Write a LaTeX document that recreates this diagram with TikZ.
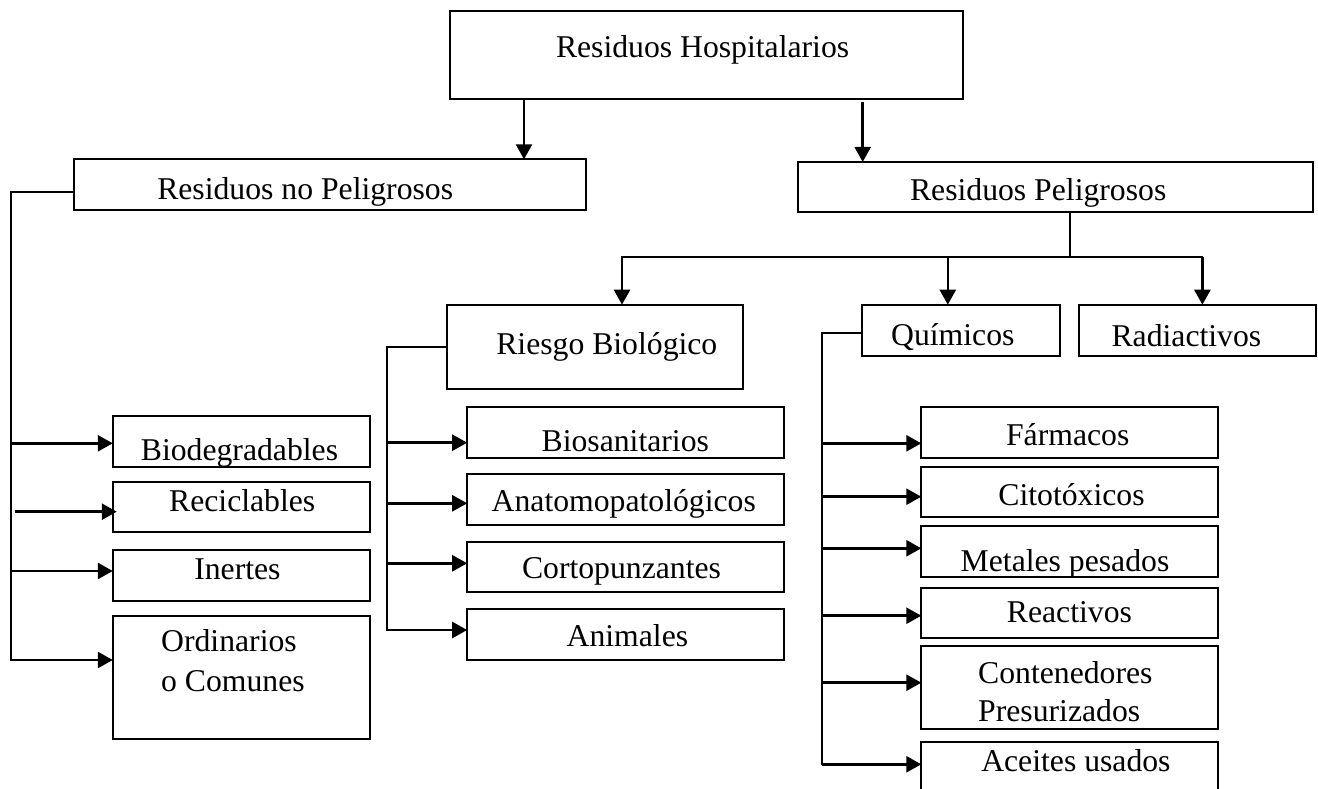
\documentclass[tikz,border=0pt]{standalone}
\usepackage{fontspec}
\setmainfont{Liberation Serif}
\usetikzlibrary{arrows.meta}
\newcommand\mkbox[5]{\node[box, minimum width={#4-#2}, minimum height={#5-#3}] (#1) at ({(#2+#4)/2},{(#3+#5)/2}) {};}
\begin{document}
\begin{tikzpicture}[x=1pt,y=-1pt,
  box/.style={draw, line width=2pt, inner sep=0pt, outer sep=0pt, rectangle},
  lbl/.style={inner sep=0pt, outer sep=0pt, font=\fontsize{31.7}{36}\selectfont, anchor=base},
  lblw/.style={lbl, anchor=base west},
  arr/.style={line width=2.5pt, -{Triangle[length=15pt,width=16pt]}},
  ln/.style={line width=2pt, line cap=rect}]
\useasboundingbox (0,0) rectangle (1318,789);
\clip (0,0) rectangle (1318,789);
% boxes
\mkbox{hosp}{449.5}{10.7}{963.4}{99}
\mkbox{nopel}{73.6}{159.3}{586}{210}
\mkbox{pel}{798.2}{162}{1313.2}{212.3}
\mkbox{bio}{447.4}{304.7}{743.4}{389}
\mkbox{quim}{861.9}{304.7}{1059.5}{355.7}
\mkbox{rad}{1078.9}{304.7}{1316}{355.7}
\mkbox{biodeg}{112.8}{416}{369.5}{466.7}
\mkbox{recic}{112.8}{481.7}{369.5}{532}
\mkbox{inert}{112.8}{550}{369.5}{600.7}
\mkbox{ordin}{112.8}{615.7}{369.5}{739.3}
\mkbox{biosan}{467.2}{407.3}{783.5}{457.7}
\mkbox{anato}{467.2}{474.3}{783.5}{525}
\mkbox{corto}{467.2}{541.7}{783.5}{591.7}
\mkbox{anim}{467.2}{609.3}{783.5}{660}
\mkbox{farm}{921.3}{407.3}{1218.4}{457.7}
\mkbox{cito}{921.3}{467.3}{1218.4}{517}
\mkbox{metal}{921.3}{526}{1218.4}{576.7}
\mkbox{react}{921.3}{587.7}{1218.4}{637.7}
\mkbox{conten}{921.3}{645.7}{1218.4}{729.3}
\mkbox{aceit}{921.3}{742.3}{1218.4}{810}
% labels
\node[lbl] (hospT) at (702.6,57.5) {Residuos Hospitalarios};
\node[lbl] (nopelT) at (305.2,199.5) {Residuos no Peligrosos};
\node[lbl] (pelT) at (1038.2,200.5) {Residuos Peligrosos};
\node[lbl] (bioT) at (606.8,354) {Riesgo Biológico};
\node[lbl] (quimT) at (952.8,345.5) {Químicos};
\node[lbl] (radT) at (1186.4,346) {Radiactivos};
\node[lbl] (biodegT) at (239.5,460.3) {Biodegradables};
\node[lbl] (recicT) at (242.2,511) {Reciclables};
\node[lbl] (inertT) at (237.4,579.3) {Inertes};
\node[lblw] (ordinT1) at (161.2,651.7) {Ordinarios};
\node[lblw] (ordinT2) at (161.2,691) {o Comunes};
\node[lbl] (biosanT) at (625.3,451.7) {Biosanitarios};
\node[lbl] (anatoT) at (623.8,511) {Anatomopatológicos};
\node[lbl] (cortoT) at (621.5,578.3) {Cortopunzantes};
\node[lbl] (animT) at (627.4,646) {Animales};
\node[lbl] (farmT) at (1067.7,445) {Fármacos};
\node[lbl] (citoT) at (1071.5,505) {Citotóxicos};
\node[lbl] (metalT) at (1065,571.7) {Metales pesados};
\node[lbl] (reactT) at (1069.4,622.7) {Reactivos};
\node[lblw] (contenT1) at (978.2,683.7) {Contenedores};
\node[lblw] (contenT2) at (978.2,721.7) {Presurizados};
\node[lbl] (aceitT) at (1075.9,771) {Aceites usados};
% top arrows
\coordinate (a1) at (524,0);
\coordinate (a2) at (862.7,0);
\draw[arr] (hosp.south -| a1) -- (nopel.north -| a1);
\draw[arr] ([yshift=-3pt]hosp.south -| a2) -- (pel.north -| a2);
% peligrosos distribution
\coordinate (pv) at (1070,256.7);
\coordinate (h1) at (622,256.7);
\coordinate (h2) at (947.8,256.7);
\coordinate (h3) at (1202.4,256.7);
\draw[ln] (pv |- pel.south) -- (pv);
\draw[ln] (h1) -- (h3);
\draw[arr] (h1) -- (h1 |- bio.north);
\draw[arr] (h2) -- (h2 |- quim.north);
\draw[arr] (h3) -- (h3 |- rad.north);
% no peligrosos trunk
\coordinate (nL) at (11,192);
\coordinate (nE) at (11,660);
\draw[ln] (nopel.west |- nL) -- (nL) -- (nE);
\coordinate (n1) at (11,443.3);
\coordinate (n2) at (14.7,511.7);
\coordinate (n3) at (11,571);
\draw[arr] (n1) -- (n1 -| biodeg.west);
\draw[arr] (n2) -- ([xshift=4pt]n2 -| recic.west);
\draw[arr] (n3) -- (n3 -| inert.west);
\draw[arr] (nE) -- (nE -| ordin.west);
% biologico trunk
\coordinate (bL) at (387.2,346.7);
\coordinate (bE) at (387.2,630);
\draw[ln] (bio.west |- bL) -- (bL) -- (bE);
\coordinate (b1) at (387.2,442.7);
\coordinate (b2) at (387.2,503.3);
\coordinate (b3) at (387.2,563.3);
\draw[arr] (b1) -- (b1 -| biosan.west);
\draw[arr] (b2) -- (b2 -| anato.west);
\draw[arr] (b3) -- (b3 -| corto.west);
\draw[arr] (bE) -- (bE -| anim.west);
% quimicos trunk
\coordinate (qL) at (822.2,333.3);
\coordinate (qE) at (822.2,764.3);
\draw[ln] (quim.west |- qL) -- (qL) -- (qE);
\coordinate (q1) at (822.2,443.3);
\coordinate (q2) at (822.2,496.7);
\coordinate (q3) at (822.2,548.3);
\coordinate (q4) at (822.2,615.7);
\coordinate (q5) at (822.2,682.7);
\draw[arr] (q1) -- (q1 -| farm.west);
\draw[arr] (q2) -- (q2 -| cito.west);
\draw[arr] (q3) -- (q3 -| metal.west);
\draw[arr] (q4) -- (q4 -| react.west);
\draw[arr] (q5) -- (q5 -| conten.west);
\draw[arr] (qE) -- (qE -| aceit.west);
\end{tikzpicture}
\end{document}
